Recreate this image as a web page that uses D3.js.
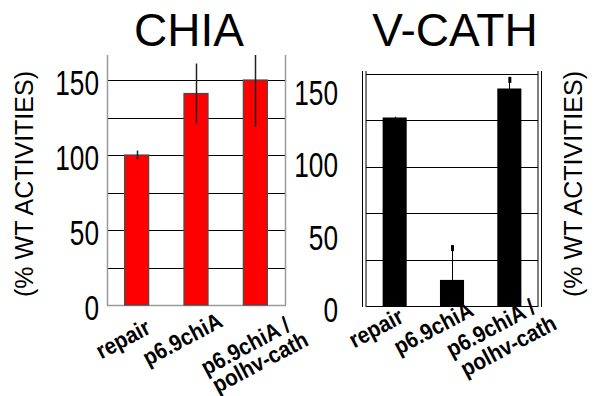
<!doctype html>
<html>
<head>
<meta charset="UTF-8">
<title>CHIA / V-CATH</title>
<style>
	body { margin: 0; background: #fff; }
	#container { font-size: 0; }
</style>
</head>
<body>
<div id="container"></div>
<script src="https://cdn.jsdelivr.net/npm/d3@7/dist/d3.min.js"></script>
<script>
	var w = 595;
	var h = 396;

	// categories (multi-line labels as arrays of lines)
	var categories = [["repair"], ["p6.9chiA"], ["p6.9chiA /", "polhv-cath"]];

	// CHIA panel
	var chiaValues = [100, 141, 150];
	var chiaErrors = [3, 20, 31];
	var chiaTicks = [0, 50, 100, 150];
	var chiaGrid = [25, 50, 75, 100, 125, 150];

	// V-CATH panel
	var vcathValues = [130, 18, 150];
	var vcathErrors = [0.5, 24, 8];
	var vcathTicks = [0, 50, 100, 150];
	var vcathGrid = [0, 32, 64, 96, 128, 160];

	var svg = d3.select("#container")
			.append("svg")
			.attr("width", w)
			.attr("height", h)
			.style("font-family", "'Liberation Sans', Arial, sans-serif");

	function crisp(v) {
		return Math.round(v) + 0.5;
	}

	function panel(cfg) {
		var g = svg.append("g");
		var x = d3.scaleBand()
				.domain(d3.range(cfg.values.length))
				.range([cfg.x0, cfg.x1])
				.paddingInner(cfg.pad)
				.paddingOuter(cfg.pad / 2);
		var y = d3.scaleLinear()
				.domain([0, cfg.yMax])
				.range([cfg.yBase, cfg.yTop]);

		// title
		g.append("text")
				.attr("x", (cfg.x0 + cfg.x1) / 2 + cfg.titleDx)
				.attr("y", 46)
				.attr("text-anchor", "middle")
				.attr("font-size", 46)
				.text(cfg.title);

		// grid lines
		g.selectAll("line.grid")
				.data(cfg.grid)
				.enter()
				.append("line")
				.attr("class", "grid")
				.attr("x1", cfg.x0)
				.attr("x2", cfg.x1)
				.attr("y1", function (d) { return crisp(y(d)); })
				.attr("y2", function (d) { return crisp(y(d)); })
				.attr("stroke", "#000")
				.attr("stroke-width", 1);

		// frame
		cfg.frame(g, y);

		// bars
		g.selectAll("rect.bar")
				.data(cfg.values)
				.enter()
				.append("rect")
				.attr("class", "bar")
				.attr("x", function (d, i) { return x(i); })
				.attr("y", function (d) { return y(d); })
				.attr("width", x.bandwidth())
				.attr("height", function (d) { return y(0) - y(d); })
				.attr("fill", cfg.color)
				.attr("stroke", cfg.barStroke)
				.attr("stroke-width", cfg.barStroke === "none" ? 0 : 1.2);

		// error bars (clipped to plot area)
		var clipId = "clip-" + cfg.title.replace(/\W/g, "");
		svg.append("clipPath").attr("id", clipId)
				.append("rect")
				.attr("x", cfg.x0).attr("y", cfg.yTop)
				.attr("width", cfg.x1 - cfg.x0).attr("height", cfg.yBase - cfg.yTop);
		var eg = g.append("g").attr("clip-path", "url(#" + clipId + ")");
		eg.selectAll("line.err")
				.data(cfg.values)
				.enter()
				.append("line")
				.attr("class", "err")
				.attr("x1", function (d, i) { return crisp(x(i) + x.bandwidth() / 2); })
				.attr("x2", function (d, i) { return crisp(x(i) + x.bandwidth() / 2); })
				.attr("y1", function (d, i) { return y(d - cfg.errors[i]); })
				.attr("y2", function (d, i) { return y(d + cfg.errors[i]); })
				.attr("stroke", cfg.errColor)
				.attr("stroke-width", cfg.errWidth);
		if (cfg.caps) {
			eg.selectAll("rect.cap")
					.data(cfg.values)
					.enter()
					.append("rect")
					.attr("class", "cap")
					.attr("x", function (d, i) { return x(i) + x.bandwidth() / 2 - 1; })
					.attr("y", function (d, i) { return y(d + cfg.errors[i]); })
					.attr("width", 3)
					.attr("height", function (d, i) { return cfg.errors[i] > 2 ? 6 : 0; })
					.attr("fill", "#000");
		}

		// y tick labels (condensed digits)
		var axis = d3.axisLeft(y)
				.tickValues(cfg.ticks)
				.tickSize(0)
				.tickPadding(0)
				.tickFormat(d3.format("d"));
		var ag = g.append("g")
				.attr("transform", "translate(" + cfg.tickX + ",0)")
				.call(axis);
		ag.select(".domain").remove();
		ag.selectAll("text")
				.attr("font-size", 35)
				.attr("font-family", "'Liberation Sans', Arial, sans-serif")
				.attr("fill", "#000")
				.attr("x", 0)
				.attr("dy", cfg.tickDy)
				.attr("transform", "scale(0.75,1)");

		// category labels
		var lg = g.selectAll("g.cat")
				.data(categories)
				.enter()
				.append("g")
				.attr("class", "cat")
				.attr("transform", function (d, i) {
					return "translate(" + (x(i) + x.bandwidth() / 2 + cfg.labelDx) + "," + cfg.labelY + ") rotate(-28) scale(0.9,1)";
				});
		lg.each(function (lines) {
			var t = d3.select(this).append("text")
					.attr("text-anchor", "middle")
					.attr("font-size", 23)
					.attr("font-weight", "bold");
			lines.forEach(function (line, k) {
				t.append("tspan")
						.attr("x", k === 0 ? 0 : cfg.line2Dx)
						.attr("y", lines.length > 1 ? (k * cfg.lineH + cfg.multiShift) : 0)
						.text(line);
			});
		});

		// y-axis title
		svg.append("text")
				.attr("transform", "translate(" + cfg.ytX + ",184) rotate(-90)")
				.attr("text-anchor", "middle")
				.attr("font-size", 25)
				.text("(% WT ACTIVITIES)");
	}

	panel({
		title: "CHIA",
		titleDx: -7,
		values: chiaValues,
		errors: chiaErrors,
		ticks: chiaTicks,
		grid: chiaGrid,
		x0: 107, x1: 285,
		yBase: 305, yTop: 55, yMax: 166.67,
		pad: 0.595,
		color: "#ff0000",
		barStroke: "#4a4a4a",
		errColor: "#222",
		errWidth: 1.5,
		caps: false,
		tickX: 99,
		tickDy: "0.4em",
		labelDx: -10,
		labelY: 346,
		lineH: 21,
		line2Dx: 6,
		multiShift: 8,
		ytX: 33,
		frame: function (g, y) {
			var gray = "#9a9a9a";
			g.append("line").attr("x1", 107.5).attr("x2", 107.5).attr("y1", 55).attr("y2", 305.5)
					.attr("stroke", gray).attr("stroke-width", 1.5);
			g.append("line").attr("x1", 285.5).attr("x2", 285.5).attr("y1", 55).attr("y2", 305.5)
					.attr("stroke", gray).attr("stroke-width", 1.5);
			g.append("line").attr("x1", 107).attr("x2", 286).attr("y1", crisp(y(0))).attr("y2", crisp(y(0)))
					.attr("stroke", gray).attr("stroke-width", 1.5);
		}
	});

	panel({
		title: "V-CATH",
		titleDx: 3,
		values: vcathValues,
		errors: vcathErrors,
		ticks: vcathTicks,
		grid: vcathGrid,
		x0: 366, x1: 538,
		yBase: 306, yTop: 74, yMax: 160,
		pad: 0.58,
		color: "#000",
		barStroke: "none",
		errColor: "#000",
		errWidth: 1,
		caps: true,
		tickX: 338,
		tickDy: "0.45em",
		labelDx: -15,
		labelY: 335,
		lineH: 24,
		line2Dx: 8,
		multiShift: 0,
		ytX: 582,
		frame: function (g, y) {
			[362.5, 366, 538, 541.5].forEach(function (xx) {
				g.append("line").attr("x1", xx).attr("x2", xx).attr("y1", 71).attr("y2", 307)
						.attr("stroke", "#000").attr("stroke-width", 1);
			});
		}
	});
</script>
</body>
</html>
